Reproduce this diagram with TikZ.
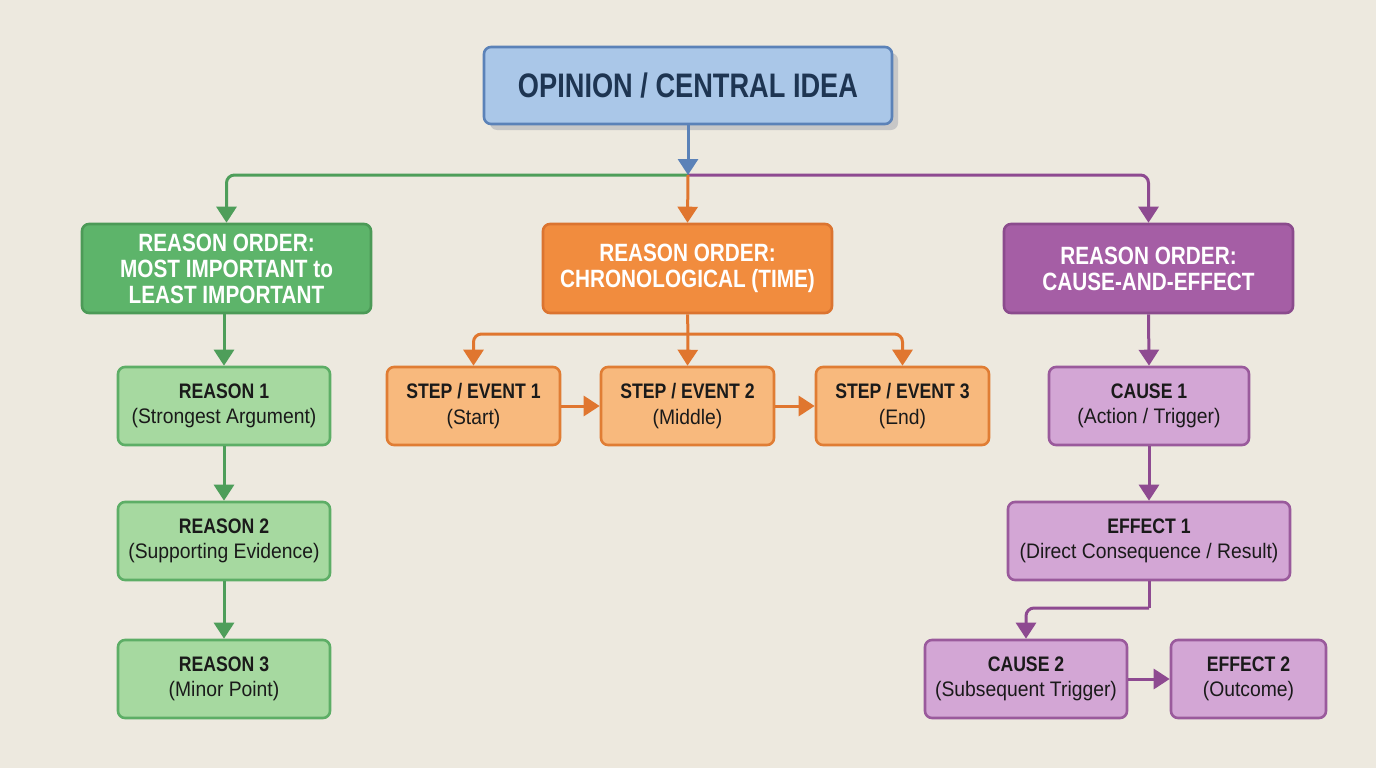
\documentclass[tikz,border=0pt]{standalone}
\usepackage{fontspec}
\setmainfont{Liberation Sans}[FakeStretch=0.92]
\newfontfamily\titlef{Liberation Sans}[FakeStretch=0.8]
\newfontfamily\headf{Liberation Sans}[FakeStretch=0.83]
\newfontfamily\leafb{Liberation Sans}[FakeStretch=0.84]
\usetikzlibrary{arrows.meta}
\definecolor{bg}{HTML}{EDE9DF}
\definecolor{bfill}{HTML}{AAC7E8}
\definecolor{bdraw}{HTML}{5B82B8}
\definecolor{btext}{HTML}{1E3552}
\definecolor{ghfill}{HTML}{5DB46A}
\definecolor{ghdraw}{HTML}{4C9A57}
\definecolor{glfill}{HTML}{A6D9A0}
\definecolor{gldraw}{HTML}{5DAE66}
\definecolor{ohfill}{HTML}{F18C3E}
\definecolor{ohdraw}{HTML}{DB7430}
\definecolor{olfill}{HTML}{F8B97D}
\definecolor{oldraw}{HTML}{E07D34}
\definecolor{phfill}{HTML}{A55EA5}
\definecolor{phdraw}{HTML}{8B4B8D}
\definecolor{plfill}{HTML}{D3A6D5}
\definecolor{pldraw}{HTML}{9A5A9C}
\definecolor{gline}{HTML}{4E9E5A}
\definecolor{oline}{HTML}{E0762F}
\definecolor{pline}{HTML}{8E4A91}
\definecolor{dtext}{HTML}{1A1A1A}
\tikzset{
  box/.style={rounded corners=7pt, line width=2.6pt, align=center, inner sep=0pt},
  header/.style={box, minimum width=289pt, minimum height=89pt, text=white, font=\headf\fontsize{25}{26}\selectfont\bfseries},
  leaf/.style={box, minimum height=78pt, text=dtext, font=\fontsize{21}{25.5}\selectfont},
  conn/.style={line width=3pt, rounded corners=8pt, -{Triangle[width=20pt,length=16pt]}},
  plain/.style={line width=3pt, rounded corners=8pt},
}
\newcommand{\ttl}[2]{{\leafb\bfseries #1}\\#2}
\begin{document}
\begin{tikzpicture}[x=1pt,y=-1pt]
\fill[bg] (0,0) rectangle (1376,768);
\useasboundingbox (0,0) rectangle (1376,768);
% top
\fill[black!22, rounded corners=7pt] (490,53) rectangle (898,130);
\node[box, fill=bfill, draw=bdraw, minimum width=408pt, minimum height=77pt, text=btext, font=\titlef\fontsize{34}{38}\selectfont\bfseries] (top) at (688,85.5) {OPINION / CENTRAL IDEA};
% headers
\node[header, fill=ghfill, draw=ghdraw] (gh) at (226.5,268.5) {REASON ORDER:\\MOST IMPORTANT to\\LEAST IMPORTANT};
\node[header, fill=ohfill, draw=ohdraw] (oh) at (687.5,268.5) {REASON ORDER:\\CHRONOLOGICAL (TIME)};
\node[header, fill=phfill, draw=phdraw] (ph) at (1148.5,268.5) {REASON ORDER:\\CAUSE-AND-EFFECT};
% green leaves
\node[leaf, fill=glfill, draw=gldraw, minimum width=212pt] (r1) at (224,406) {\ttl{REASON 1}{(Strongest Argument)}};
\node[leaf, fill=glfill, draw=gldraw, minimum width=212pt] (r2) at (224,541) {\ttl{REASON 2}{(Supporting Evidence)}};
\node[leaf, fill=glfill, draw=gldraw, minimum width=212pt] (r3) at (224,679) {\ttl{REASON 3}{(Minor Point)}};
% orange leaves
\node[leaf, fill=olfill, draw=oldraw, minimum width=173pt] (s1) at (473.5,406) {\ttl{STEP / EVENT 1}{(Start)}};
\node[leaf, fill=olfill, draw=oldraw, minimum width=173pt] (s2) at (687.5,406) {\ttl{STEP / EVENT 2}{(Middle)}};
\node[leaf, fill=olfill, draw=oldraw, minimum width=173pt] (s3) at (902.5,406) {\ttl{STEP / EVENT 3}{(End)}};
% purple leaves
\node[leaf, fill=plfill, draw=pldraw, minimum width=200pt] (c1) at (1149,406) {\ttl{CAUSE 1}{(Action / Trigger)}};
\node[leaf, fill=plfill, draw=pldraw, minimum width=282pt] (e1) at (1149,541) {\ttl{EFFECT 1}{(Direct Consequence / Result)}};
\node[leaf, fill=plfill, draw=pldraw, minimum width=202pt] (c2) at (1026,679) {\ttl{CAUSE 2}{(Subsequent Trigger)}};
\node[leaf, fill=plfill, draw=pldraw, minimum width=155pt] (e2) at (1248.5,679) {\ttl{EFFECT 2}{(Outcome)}};
% coordinates
\coordinate (hub) at (688,175);
\coordinate (ob) at (688,334);
\coordinate (pb) at (1149,608);
% top connectors
\draw[conn, gline] (hub) -| (gh.north);
\draw[conn, pline] (hub) -| (ph.north);
\draw[conn, oline] (hub) -- (oh.north);
\draw[conn, bdraw] (top.south) -- (hub);
% green chain
\draw[conn, gline] (r1.north |- gh.south) -- (r1.north);
\draw[conn, gline] (r1.south) -- (r2.north);
\draw[conn, gline] (r2.south) -- (r3.north);
% orange
\draw[plain, oline] (oh.south) -- (ob);
\draw[conn, oline] (ob) -| (s1.north);
\draw[conn, oline] (ob) -- (s2.north);
\draw[conn, oline] (ob) -| (s3.north);
\draw[conn, oline] (s1.east) -- (s2.west);
\draw[conn, oline] (s2.east) -- (s3.west);
% purple
\draw[conn, pline] (ph.south) -- (c1.north);
\draw[conn, pline] (c1.south) -- (e1.north);
\draw[plain, pline] (e1.south) -- (pb);
\draw[conn, pline] (pb) -| (c2.north);
\draw[conn, pline] (c2.east) -- (e2.west);
\end{tikzpicture}
\end{document}
